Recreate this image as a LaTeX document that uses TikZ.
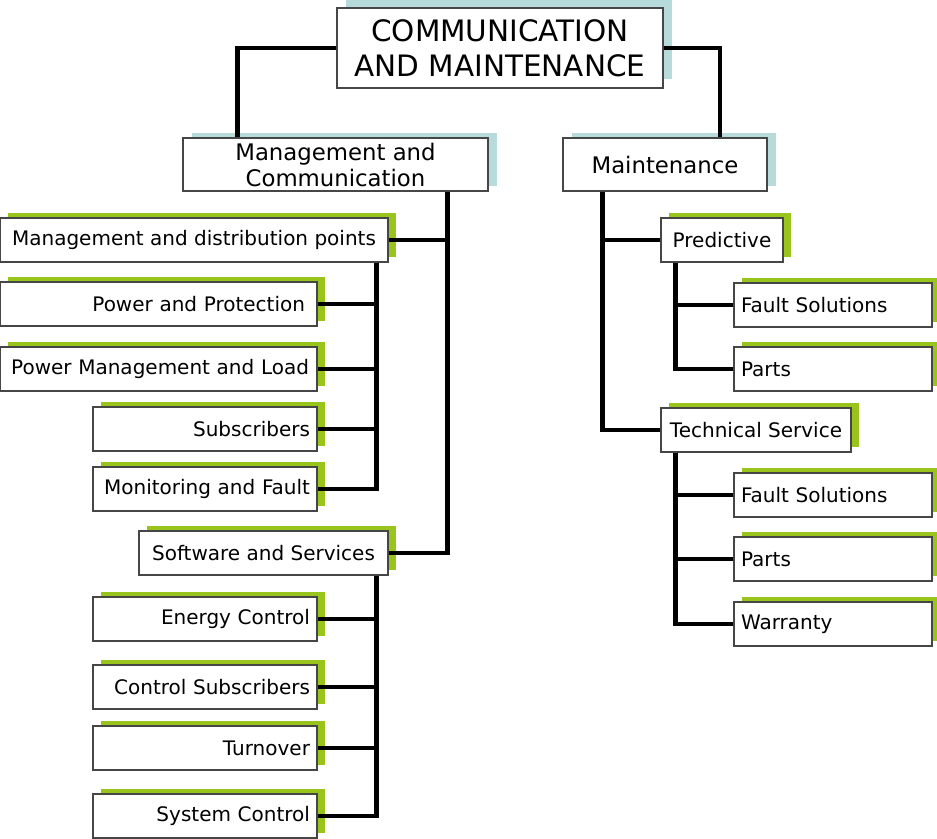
\documentclass[tikz,border=0pt]{standalone}
\usepackage{fontspec}
\setmainfont{DejaVu Sans}
\usetikzlibrary{shadows}
\definecolor{leafgreen}{RGB}{153,196,28}
\definecolor{headteal}{RGB}{183,218,219}
\definecolor{boxline}{RGB}{70,70,70}
\tikzset{
  box/.style={rectangle, draw=boxline, fill=white, line width=1.2pt,
    minimum height=44pt, inner xsep=0pt, inner ysep=0pt,
    font=\fontsize{20}{24}\selectfont},
  headbox/.style={box, general shadow={fill=headteal, shadow xshift=9pt, shadow yshift=#1},
    font=\fontsize{22.8}{26}\selectfont},
  headbox/.default=5pt,
  leafbox/.style={box, general shadow={fill=leafgreen, shadow xshift=8pt, shadow yshift=5pt}},
  leftleaf/.style={leafbox, inner xsep=7pt, text width=#1, align=right},
  leftleaf/.default=210pt,
  rightleaf/.style={leafbox, inner xsep=7pt, text width=184pt, align=left},
  link/.style={line width=4.5pt, black},
}
\begin{document}
\begin{tikzpicture}[x=1pt,y=-1pt]
  \useasboundingbox (0,0) rectangle (937,838);

  \node[headbox=9pt, minimum width=326pt, minimum height=80pt, align=center,
    font=\fontsize{29.5}{35}\selectfont] (top) at (500,48) {COMMUNICATION\\AND MAINTENANCE};
  \node[headbox, minimum width=305pt, minimum height=53pt, align=center] (mc) at (335.5,164.5) {Management and\\Communication};
  \node[headbox, minimum width=204pt, minimum height=53pt] (mnt) at (665,164.5) {Maintenance};

  % left branch
  \node[leafbox, minimum width=388pt] (mdp) at (194,240) {Management and distribution points};
  \node[leftleaf=293pt, inner xsep=12pt] (pp) at (158.5,304) {Power and Protection};
  \node[leftleaf=301pt, inner xsep=8pt] (pml) at (158.5,369) {Power Management and Load};
  \node[leftleaf] (sub) at (205,429) {Subscribers};
  \node[leftleaf] (mf) at (205,489) {Monitoring and Fault};

  \node[leafbox, minimum width=249pt] (sw) at (263.5,553) {Software and Services};
  \node[leftleaf] (ec) at (205,619) {Energy Control};
  \node[leftleaf] (cs) at (205,687) {Control Subscribers};
  \node[leftleaf] (to) at (205,748) {Turnover};
  \node[leftleaf] (sc) at (205,816) {System Control};

  % right branch
  \node[leafbox, minimum width=122pt] (pred) at (722,240) {Predictive};
  \node[rightleaf] (pfs) at (833,305) {Fault Solutions};
  \node[rightleaf] (ppa) at (833,369) {Parts};

  \node[leafbox, minimum width=190pt] (tech) at (756,430) {Technical Service};
  \node[rightleaf] (tfs) at (833,495) {Fault Solutions};
  \node[rightleaf] (tpa) at (833,559) {Parts};
  \node[rightleaf] (twa) at (833,624) {Warranty};

  % connectors
  \draw[link] (top.west) -| ([xshift=55pt]mc.north west);
  \draw[link] (top.east) -| ([xshift=55pt]mnt.north);
  \foreach \n in {mdp,sw}
    \draw[link] ([xshift=-41pt]mc.south east) |- (\n.east);
  \foreach \n in {pp,pml,sub,mf}
    \draw[link] ([xshift=-12pt]mdp.south east) |- (\n.east);
  \foreach \n in {ec,cs,to,sc}
    \draw[link] ([xshift=-12pt]sw.south east) |- (\n.east);
  \foreach \n in {pred,tech}
    \draw[link] ([xshift=40pt]mnt.south west) |- (\n.west);
  \foreach \n in {pfs,ppa}
    \draw[link] ([xshift=15pt]pred.south west) |- (\n.west);
  \foreach \n in {tfs,tpa,twa}
    \draw[link] ([xshift=15pt]tech.south west) |- (\n.west);
\end{tikzpicture}
\end{document}
